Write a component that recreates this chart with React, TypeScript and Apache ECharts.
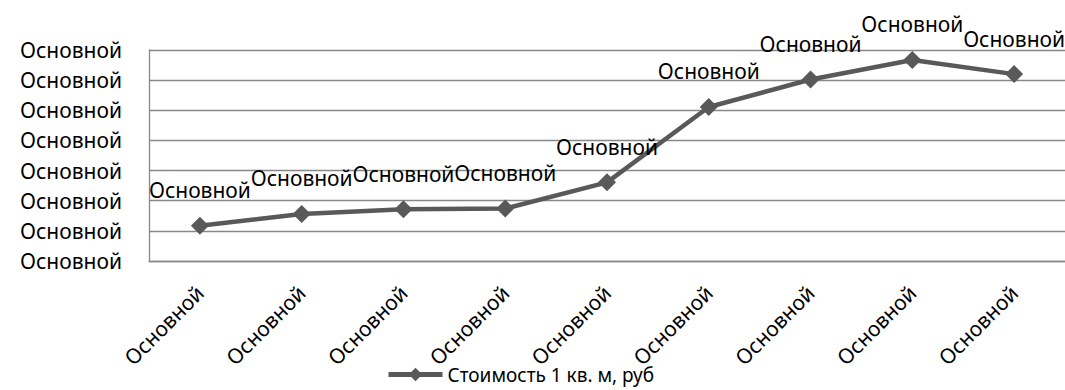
import React, { useEffect, useRef } from "react";
import * as echarts from "echarts";

const categories = ["Основной", "Основной", "Основной", "Основной", "Основной", "Основной", "Основной", "Основной", "Основной"];
const values = [1.17, 1.56, 1.72, 1.74, 2.61, 5.11, 6.02, 6.67, 6.2];
const pointLabels = ["Основной", "Основной", "Основной", "Основной", "Основной", "Основной", "Основной", "Основной", "Основной"];
const yTickLabels = ["Основной", "Основной", "Основной", "Основной", "Основной", "Основной", "Основной", "Основной"];
const seriesName = "Стоимость 1 кв. м, руб";

const FONT = "'Noto Sans', sans-serif";
const FS = 21;

export default function App() {
  const ref = useRef<HTMLDivElement>(null);
  useEffect(() => {
    if (!ref.current) return;
    const chart = echarts.init(ref.current, undefined, { renderer: "svg" });
    chart.setOption({
      animation: false,
      backgroundColor: "#ffffff",
      textStyle: { fontFamily: FONT },
      grid: { left: 149, right: 0, top: 50, bottom: 129, containLabel: false },
      legend: {
        show: true,
        left: 386,
        top: 365,
        padding: 0,
        itemWidth: 54,
        itemHeight: 17,
        itemGap: 4,
        lineStyle: { width: 5, color: "#595959" },
        itemStyle: { color: "#595959" },
        textStyle: { fontFamily: FONT, fontSize: 19, color: "#000", padding: [0, 0, 0, 0] },
        data: [seriesName],
      },
      xAxis: {
        type: "category",
        data: categories,
        boundaryGap: true,
        axisLine: { show: true, lineStyle: { color: "#888888", width: 1.3 } },
        axisTick: { show: false },
        axisLabel: {
          rotate: 45,
          margin: 28,
          fontFamily: FONT,
          fontSize: FS,
          color: "#000",
          interval: 0,
        },
      },
      yAxis: {
        type: "value",
        min: 0,
        max: 7,
        interval: 1,
        axisLine: { show: true, lineStyle: { color: "#888888", width: 1.3 } },
        axisTick: { show: false },
        splitLine: { show: true, lineStyle: { color: "#888888", width: 1.3 } },
        axisLabel: {
          margin: 27,
          fontFamily: FONT,
          fontSize: FS,
          color: "#000",
          formatter: (_v: number, i: number) => yTickLabels[i] ?? "",
        },
      },
      series: [
        {
          name: seriesName,
          type: "line",
          data: values,
          symbol: "diamond",
          symbolSize: 18,
          lineStyle: { color: "#595959", width: 4.5 },
          itemStyle: { color: "#595959" },
          label: {
            show: true,
            position: "top",
            distance: 16,
            fontFamily: FONT,
            fontSize: FS,
            color: "#000",
            formatter: (p: any) => pointLabels[p.dataIndex],
          },
        },
      ],
    });
    return () => chart.dispose();
  }, []);
  return (
    <div
      ref={ref}
      style={{ position: "absolute", left: 0, top: 0, width: 1065, height: 390 }}
    />
  );
}
